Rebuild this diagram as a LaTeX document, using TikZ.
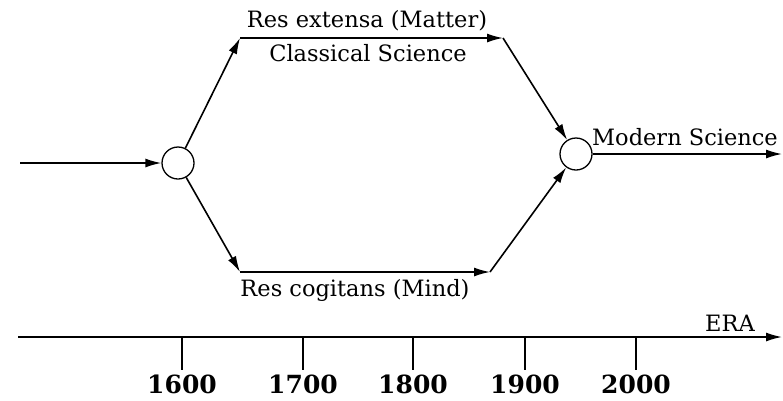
\documentclass[tikz,border=0pt]{standalone}
\usepackage{fontspec}
\setmainfont{DejaVu Serif}
\usetikzlibrary{arrows.meta}
\begin{document}
\begin{tikzpicture}[x=1pt,y=-1pt,
  line width=1.6pt,
  arr/.style={-{Latex[length=16pt,width=9pt]}},
  junction/.style={circle,draw,line width=1.3pt,minimum size=32pt,inner sep=0pt},
  lbl/.style={font=\fontsize{22.5}{22.5}\selectfont,inner sep=0pt},
  yr/.style={font=\fontsize{25}{25}\selectfont\bfseries,inner sep=0pt}]
\useasboundingbox (0,0) rectangle (783,400);
\node[junction] (c1) at (178,163) {};
\node[junction] (c2) at (576,154) {};
\coordinate (start) at (20,163);
\coordinate (tl) at (240,38);
\coordinate (tr) at (503,38);
\coordinate (bl) at (240,272);
\coordinate (br) at (490,272);
\coordinate (out) at (782,154);
\draw[arr] (start) -- (c1);
\draw[arr] (c1) -- (tl);
\draw[arr] (tl) -- (tr);
\draw[arr] (tr) -- (c2);
\draw[arr] (c1) -- (bl);
\draw[arr] (bl) -- (br);
\draw[arr] (br) -- (c2);
\draw[arr] (c2) -- (out);
\node[lbl] (t1) at (367,21) {Res extensa (Matter)};
\node[lbl] (t2) at (368,53) {Classical Science};
\node[lbl] (t3) at (355,290) {Res cogitans (Mind)};
\node[lbl] (t4) at (685,137) {Modern Science};
% timeline
\coordinate (ta) at (18,337);
\coordinate (tb) at (782,337);
\draw[arr] (ta) -- (tb);
\node[lbl] (era) at (730,323) {ERA};
\foreach \x/\y in {182/1600,303/1700,413/1800,525/1900,636/2000}{
  \coordinate (k\y) at (\x,337);
  \coordinate (e\y) at (\x,370);
  \draw (k\y) -- (e\y);
  \node[yr] (y\y) at (\x,384) {\y};
}
\end{tikzpicture}
\end{document}
